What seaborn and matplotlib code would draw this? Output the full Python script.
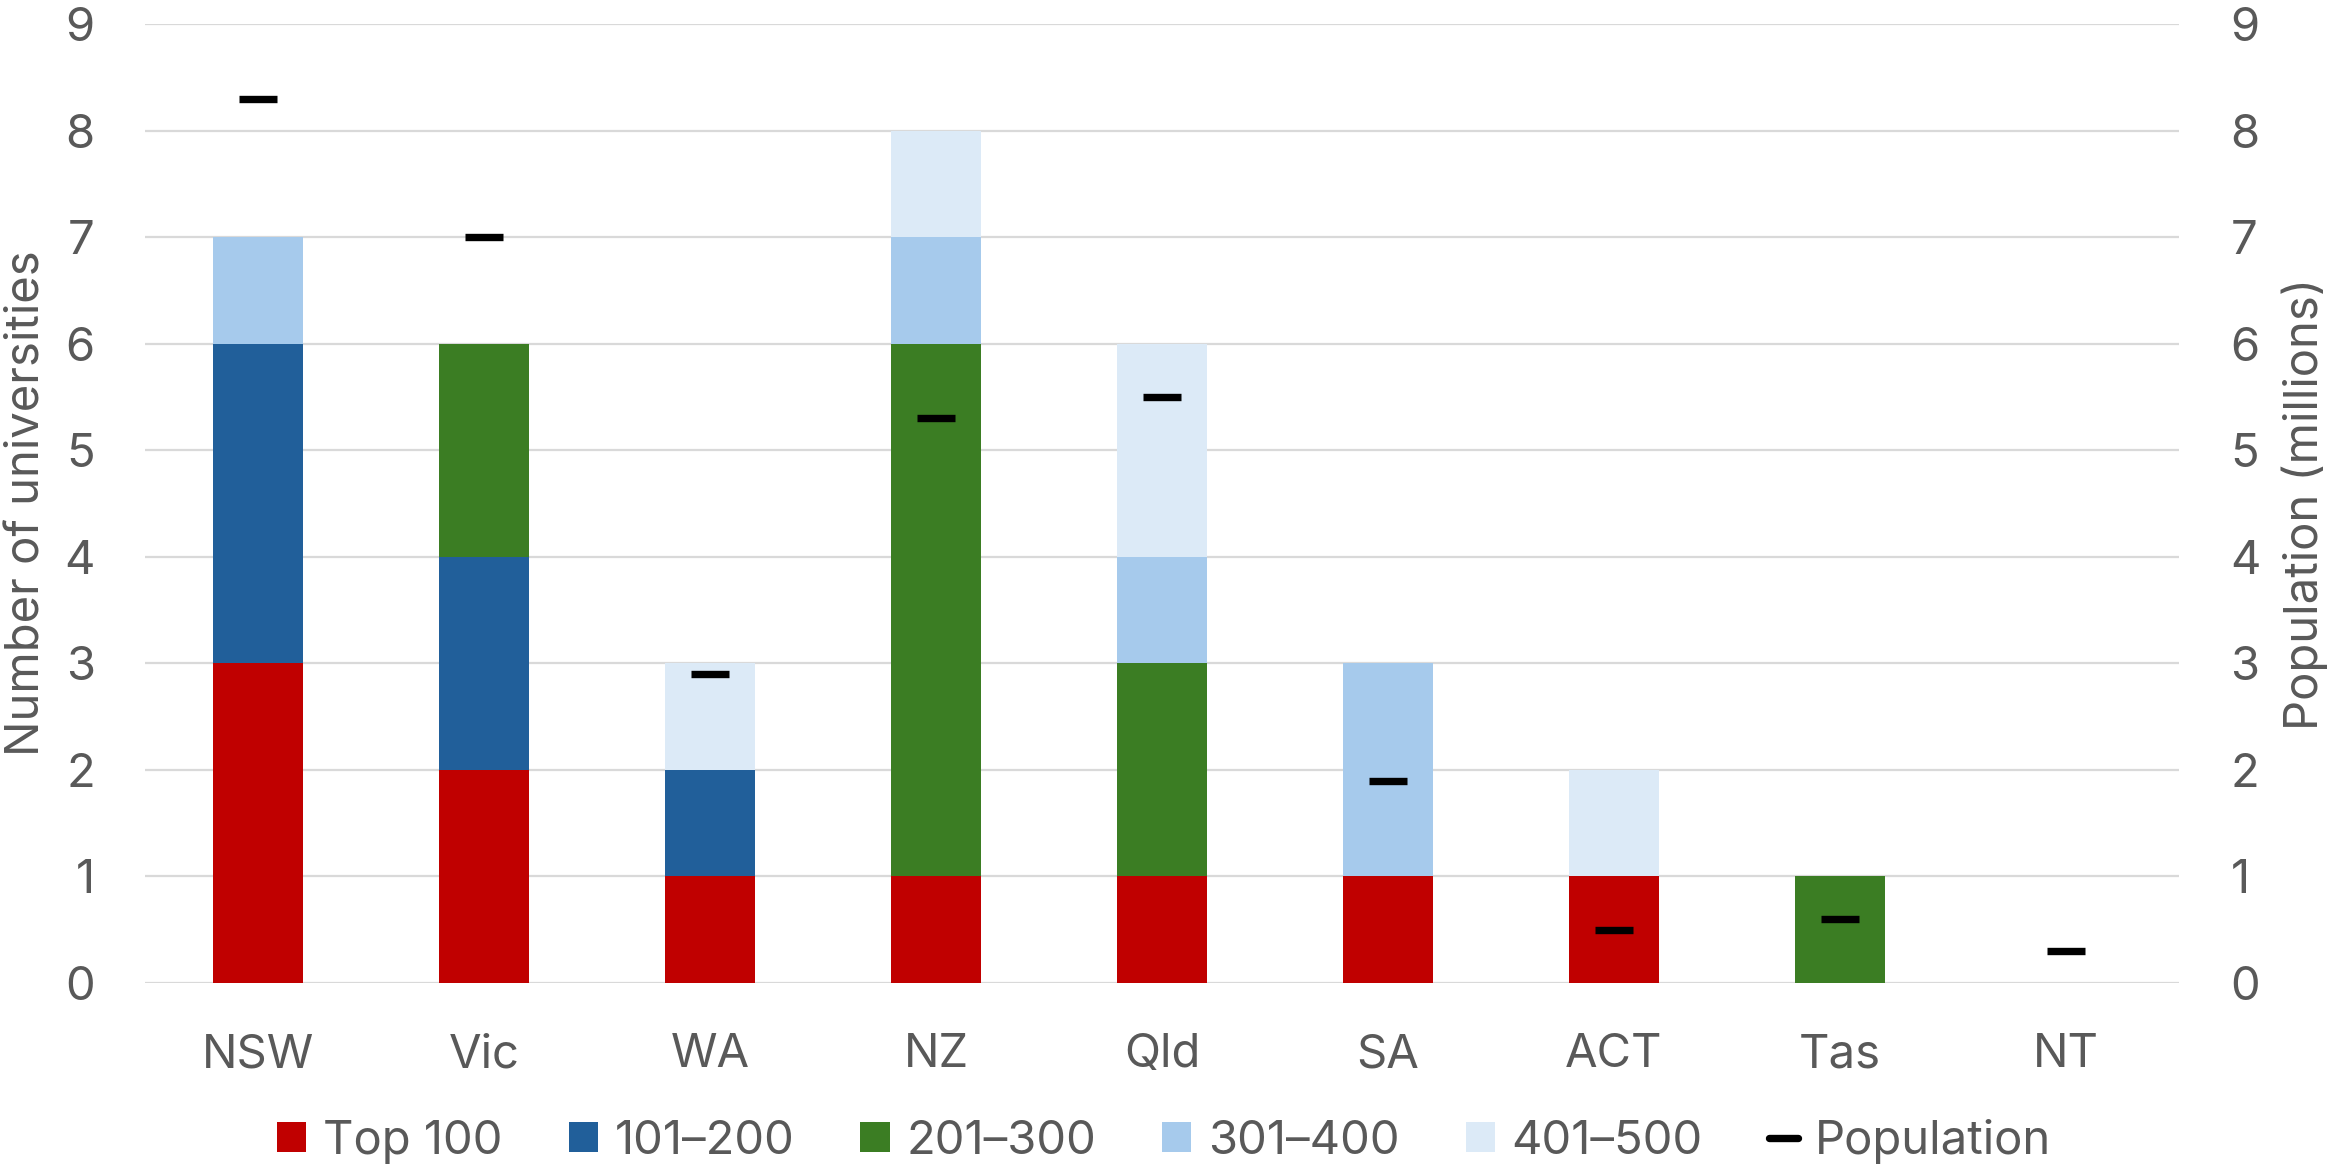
import numpy as np
import pandas as pd
import seaborn as sns
import matplotlib.pyplot as plt
from matplotlib.patches import Patch
from matplotlib.lines import Line2D

# data
regions = ["NSW", "Vic", "WA", "NZ", "Qld", "SA", "ACT", "Tas", "NT"]
bands = ["Top 100", "101–200", "201–300", "301–400", "401–500"]
top_100 = [3, 2, 1, 1, 1, 1, 1, 0, 0]
rank_101_200 = [3, 2, 1, 0, 0, 0, 0, 0, 0]
rank_201_300 = [0, 2, 0, 5, 2, 0, 0, 1, 0]
rank_301_400 = [1, 0, 0, 1, 1, 2, 0, 0, 0]
rank_401_500 = [0, 0, 1, 1, 2, 0, 1, 0, 0]
population = [8.3, 7.0, 2.9, 5.3, 5.5, 1.9, 0.5, 0.6, 0.3]

band_colors = ["#C00000", "#215F9A", "#3B7D23", "#A6CAEC", "#DCEAF7"]
text_color = "#595959"
grid_color = "#D9D9D9"
fs = 34

df = pd.DataFrame(
    {
        "region": regions,
        bands[0]: top_100,
        bands[1]: rank_101_200,
        bands[2]: rank_201_300,
        bands[3]: rank_301_400,
        bands[4]: rank_401_500,
    }
)
# cumulative heights so each band can be drawn as an overlapping bar
cum = df[bands].cumsum(axis=1)

sns.set_theme(style="white")
plt.rcParams["font.family"] = ["Inter", "DejaVu Sans"]

fig, ax = plt.subplots(figsize=(23.28, 11.67), dpi=100)
fig.subplots_adjust(left=145 / 2328, right=2179 / 2328, top=1 - 24 / 1167, bottom=1 - 983 / 1167)

for band, color in reversed(list(zip(bands, band_colors))):
    sns.barplot(
        x=df["region"],
        y=cum[band],
        color=color,
        width=0.4,
        saturation=1,
        errorbar=None,
        linewidth=0,
        ax=ax,
    )

ax.set_ylim(0, 9)
ax.set_xlim(-0.5, len(regions) - 0.5)
ax.set_yticks(range(0, 10))
ax.set_axisbelow(True)
ax.yaxis.grid(True, color=grid_color, linewidth=1.6)
ax.xaxis.grid(False)
for s in ax.spines.values():
    s.set_visible(False)
ax.set_xlabel("")
ax.set_ylabel("Number of universities", fontsize=fs, color=text_color, labelpad=11)
ax.tick_params(axis="y", length=0, pad=36, labelsize=fs, labelcolor=text_color)
ax.tick_params(axis="x", length=0, pad=36, labelsize=fs, labelcolor=text_color)

# population on the secondary axis
ax2 = ax.twinx()
ax2.plot(
    np.arange(len(regions)),
    population,
    linestyle="none",
    marker="_",
    markersize=27,
    markeredgewidth=5.3,
    color="black",
)
ax2.set_ylim(0, 9)
ax2.set_yticks(range(0, 10))
ax2.grid(False)
for s in ax2.spines.values():
    s.set_visible(False)
ax2.set_ylabel("Population (millions)", fontsize=fs, color=text_color, labelpad=15)
ax2.tick_params(axis="y", length=0, pad=37, labelsize=fs, labelcolor=text_color)

handles = [Patch(facecolor=c, edgecolor="none") for c in band_colors]
handles.append(Line2D([0], [0], color="black", linewidth=5.3))
fig.legend(
    handles,
    bands + ["Population"],
    loc="center",
    bbox_to_anchor=(0.5, 1 - 1141 / 1167),
    ncol=6,
    frameon=False,
    fontsize=fs,
    labelcolor=text_color,
    handlelength=0.62,
    handleheight=0.62,
    handletextpad=0.35,
    columnspacing=1.4,
)

fig.savefig("out.png", dpi=100)
